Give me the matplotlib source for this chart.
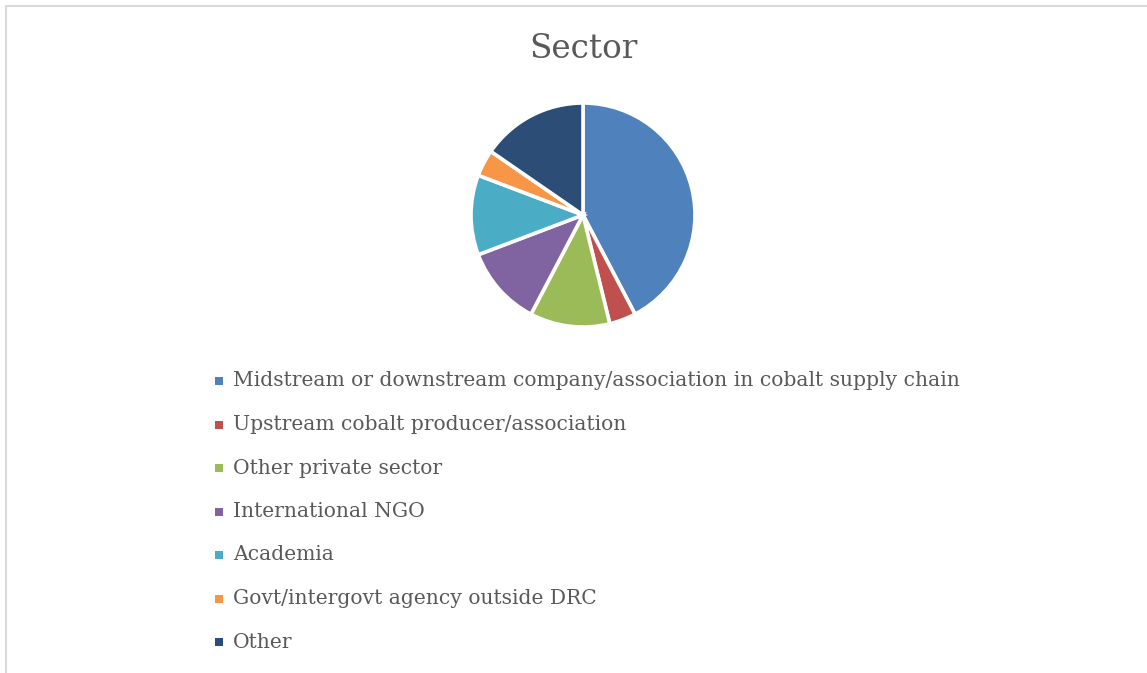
import matplotlib
matplotlib.use("Agg")
import matplotlib.pyplot as plt
from matplotlib.patches import Rectangle

# --- Veri ---
labels = [
    "Midstream or downstream company/association in cobalt supply chain",
    "Upstream cobalt producer/association",
    "Other private sector",
    "International NGO",
    "Academia",
    "Govt/intergovt agency outside DRC",
    "Other",
]
counts = [11, 1, 3, 3, 3, 1, 4]
colors = ["#4f81bd", "#c0504d", "#9bbb59", "#8064a2", "#4bacc6", "#f79646", "#2c4d75"]

W, H = 1147, 673
fig = plt.figure(figsize=(W / 100, H / 100), dpi=100)
plt.rcParams['font.family'] = ['DejaVu Serif']
text_color = "#595959"

# dış çerçeve (sağ ve alt kenar görüntünün dışında)
fig.patches.append(Rectangle((6 / W, -0.2), 1.2, 1.2 - 5.5 / H, transform=fig.transFigure,
                             fill=False, edgecolor="#d9d9d9", linewidth=1.5))

# pasta
cx, cy, r = 583, 215, 112
ax = fig.add_axes([(cx - r) / W, (H - cy - r) / H, 2 * r / W, 2 * r / H])
wedges, _ = ax.pie(counts, colors=colors, startangle=90, counterclock=False, radius=1,
                   wedgeprops=dict(edgecolor="white", linewidth=2.6))
for w in wedges:
    w.set_clip_on(False)
ax.set_xlim(-1, 1)
ax.set_ylim(-1, 1)
ax.set_aspect("equal")
ax.axis("off")

fig.text(cx / W, 1 - 49 / H, "Sector", ha="center", va="center",
         fontsize=23.5, color=text_color)

# lejant
y0, dy = 381, 43.5
for i, (lab, col) in enumerate(zip(labels, colors)):
    y = y0 + i * dy
    fig.patches.append(Rectangle(((219 - 4) / W, 1 - (y + 4) / H), 8 / W, 8 / H,
                                 transform=fig.transFigure, facecolor=col, edgecolor="none"))
    fig.text(233 / W, 1 - y / H, lab, ha="left", va="center", fontsize=14.6, color=text_color)

fig.savefig("out.png", dpi=100)
